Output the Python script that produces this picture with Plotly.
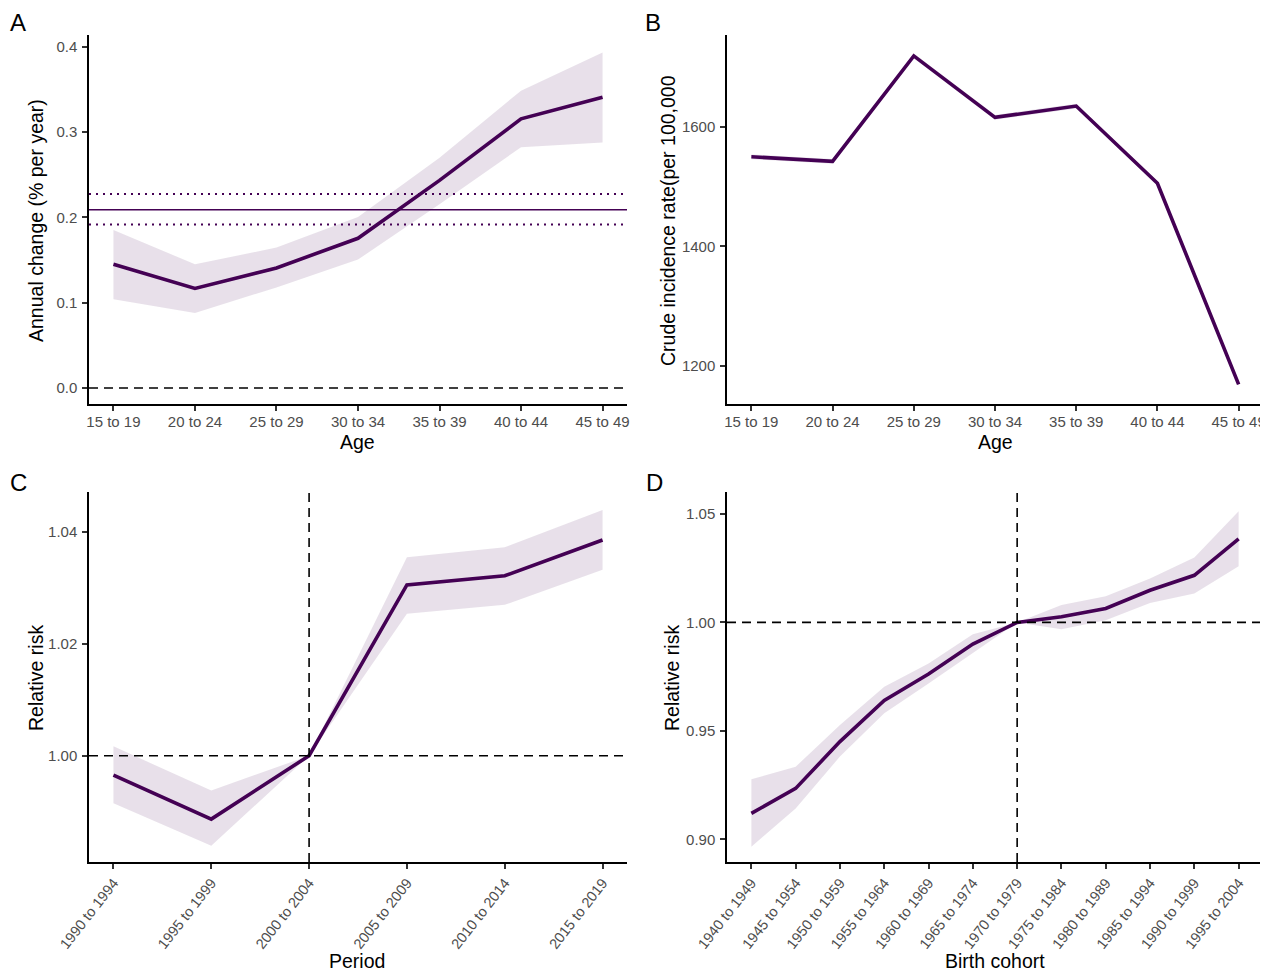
import plotly.graph_objects as go

# ---------------- data ----------------
age_groups = ["15 to 19", "20 to 24", "25 to 29", "30 to 34", "35 to 39", "40 to 44", "45 to 49"]
local_drift = [0.145, 0.1166, 0.1407, 0.1754, 0.2433, 0.3154, 0.3407]
local_drift_hi = [0.185, 0.145, 0.1645, 0.2004, 0.2698, 0.3485, 0.3933]
local_drift_lo = [0.104, 0.088, 0.1178, 0.1505, 0.2152, 0.2822, 0.2877]
net_drift = 0.209
net_drift_hi = 0.2273
net_drift_lo = 0.1915

crude_rate = [1550, 1542.5, 1719, 1616, 1635, 1505.6, 1169]
crude_rate_hi = [1554, 1546.5, 1723, 1620, 1639, 1509, 1172]
crude_rate_lo = [1546, 1538.5, 1715, 1612, 1631, 1502, 1166]

periods = ["1990 to 1994", "1995 to 1999", "2000 to 2004", "2005 to 2009", "2010 to 2014", "2015 to 2019"]
period_rr = [0.99654, 0.98865, 1.0, 1.03056, 1.0322, 1.0386]
period_rr_hi = [1.00167, 0.99377, 1.0, 1.0355, 1.0373, 1.0440]
period_rr_lo = [0.99148, 0.98388, 1.0, 1.0254, 1.0270, 1.0333]
period_ref = "2000 to 2004"

cohorts = ["1940 to 1949", "1945 to 1954", "1950 to 1959", "1955 to 1964", "1960 to 1969",
           "1965 to 1974", "1970 to 1979", "1975 to 1984", "1980 to 1989", "1985 to 1994",
           "1990 to 1999", "1995 to 2004"]
cohort_rr = [0.912, 0.9235, 0.9451, 0.964, 0.9762, 0.990, 1.0, 1.0026, 1.0064, 1.0148, 1.0217, 1.0385]
cohort_rr_hi = [0.9277, 0.9335, 0.9527, 0.9704, 0.9811, 0.9946, 1.0, 1.008, 1.0121, 1.0202, 1.0299, 1.0512]
cohort_rr_lo = [0.8966, 0.9143, 0.9382, 0.9581, 0.9719, 0.9858, 1.0, 0.9969, 1.001, 1.009, 1.0133, 1.0259]
cohort_ref = "1970 to 1979"

# ---------------- style ----------------
OFF = 8  # page body margin
W, H = 1268 - OFF, 972 - OFF
LINE = "#440154"
BAND = "rgba(68,1,84,0.12)"
FONT = "Liberation Sans, Arial, sans-serif"
TICKFONT = dict(family=FONT, size=15, color="#4D4D4D")
ROTFONT = dict(family=FONT, size=14.5, color="#4D4D4D")
TITLEFONT = dict(family=FONT, size=19.5, color="black")
DASH = "9px,6px"


def px(x):
    return (x - OFF) / W


def py(y):
    return 1 - (y - OFF) / H


fig = go.Figure()


def add_panel(idx, cats, mid, hi, lo):
    xs = list(range(len(cats)))
    xa = "x" if idx == 1 else f"x{idx}"
    ya = "y" if idx == 1 else f"y{idx}"
    fig.add_trace(go.Scatter(x=xs, y=hi, mode="lines", line=dict(width=0), xaxis=xa, yaxis=ya,
                             showlegend=False, hoverinfo="skip"))
    fig.add_trace(go.Scatter(x=xs, y=lo, mode="lines", line=dict(width=0), fill="tonexty",
                             fillcolor=BAND, xaxis=xa, yaxis=ya, showlegend=False, hoverinfo="skip"))
    fig.add_trace(go.Scatter(x=xs, y=mid, mode="lines", line=dict(color=LINE, width=3.6),
                             xaxis=xa, yaxis=ya, showlegend=False))


add_panel(1, age_groups, local_drift, local_drift_hi, local_drift_lo)
add_panel(2, age_groups, crude_rate, crude_rate_hi, crude_rate_lo)
add_panel(3, periods, period_rr, period_rr_hi, period_rr_lo)
add_panel(4, cohorts, cohort_rr, cohort_rr_hi, cohort_rr_lo)

# reference lines
shapes = []
shapes.append(dict(type="line", xref="x domain", yref="y", x0=0, x1=1, y0=0, y1=0,
                   line=dict(color="black", width=1.6, dash=DASH)))
shapes.append(dict(type="line", xref="x domain", yref="y", x0=0, x1=1, y0=net_drift, y1=net_drift,
                   line=dict(color=LINE, width=1.5)))
for v in (net_drift_hi, net_drift_lo):
    shapes.append(dict(type="line", xref="x domain", yref="y", x0=0, x1=1, y0=v, y1=v,
                       line=dict(color=LINE, width=2, dash="2px,5px")))
shapes.append(dict(type="line", xref="x3 domain", yref="y3", x0=0, x1=1, y0=1, y1=1,
                   line=dict(color="black", width=1.6, dash=DASH)))
pi = periods.index(period_ref)
shapes.append(dict(type="line", xref="x3", yref="y3 domain", x0=pi, x1=pi, y0=0, y1=1,
                   line=dict(color="black", width=1.6, dash=DASH)))
shapes.append(dict(type="line", xref="x4 domain", yref="y4", x0=0, x1=1, y0=1, y1=1,
                   line=dict(color="black", width=1.6, dash=DASH)))
ci = cohorts.index(cohort_ref)
shapes.append(dict(type="line", xref="x4", yref="y4 domain", x0=ci, x1=ci, y0=0, y1=1,
                   line=dict(color="black", width=1.6, dash=DASH)))
fig.update_layout(shapes=shapes)

xl = [px(89), px(627)]
xr = [px(727), min(1.0, px(1263))]
yt = [py(404), py(35)]
yb = [py(862), py(492)]

common = dict(showline=True, linecolor="black", linewidth=1.5, ticks="outside", ticklen=5,
              tickwidth=1.5, tickcolor="#333333", showgrid=False, zeroline=False,
              tickfont=TICKFONT, automargin=False)
ycommon = dict(common, ticklabelstandoff=2)


def xaxis(cats, dom, anchor, angle=0, font=TICKFONT, standoff=-2):
    n = len(cats)
    pad = 0.05 * (n - 1)
    return dict(common, domain=dom, anchor=anchor, range=[-pad, n - 1 + pad],
                tickvals=list(range(n)), ticktext=cats, tickangle=angle, tickfont=font,
                ticklabelstandoff=standoff)


fig.update_layout(
    width=W, height=H,
    margin=dict(l=0, r=0, t=0, b=0),
    paper_bgcolor="white", plot_bgcolor="white",
    xaxis=xaxis(age_groups, xl, "y"),
    yaxis=dict(ycommon, domain=yt, anchor="x", range=[-0.0188, 0.4137],
               tickvals=[0.0, 0.1, 0.2, 0.3, 0.4], ticktext=["0.0", "0.1", "0.2", "0.3", "0.4"]),
    xaxis2=xaxis(age_groups, xr, "y2"),
    yaxis2=dict(ycommon, domain=yt, anchor="x2", range=[1136, 1754], tickvals=[1200, 1400, 1600]),
    xaxis3=xaxis(periods, xl, "y3", angle=-52, font=ROTFONT, standoff=0),
    yaxis3=dict(ycommon, domain=yb, anchor="x3", range=[0.98097, 1.0472],
                tickvals=[1.00, 1.02, 1.04], ticktext=["1.00", "1.02", "1.04"]),
    xaxis4=xaxis(cohorts, xr, "y4", angle=-52, font=ROTFONT, standoff=0),
    yaxis4=dict(ycommon, domain=yb, anchor="x4", range=[0.8896, 1.0601],
                tickvals=[0.90, 0.95, 1.00, 1.05], ticktext=["0.90", "0.95", "1.00", "1.05"]),
)

# axis titles
titles = [
    ("Age", 357, 442, 0),
    ("Age", 995, 442, 0),
    ("Period", 357, 961, 0),
    ("Birth cohort", 995, 961, 0),
    ("Annual change (% per year)", 36, 221, -90),
    ("Crude incidence rate(per 100,000", 668, 221, -90),
    ("Relative risk", 36, 678, -90),
    ("Relative risk", 672, 678, -90),
]
for text, x, y, ang in titles:
    fig.add_annotation(text=text, x=px(x), y=py(y), xref="paper", yref="paper", showarrow=False,
                       xanchor="center", yanchor="middle", textangle=ang, font=TITLEFONT)

for letter, x, y in [("A", 18, 23), ("B", 653, 23), ("C", 18, 482), ("D", 655, 482)]:
    fig.add_annotation(text=letter, x=px(x), y=py(y), xref="paper", yref="paper",
                       showarrow=False, xanchor="center", yanchor="middle",
                       font=dict(family=FONT, size=24, color="black"))

fig.write_html("out.html")
